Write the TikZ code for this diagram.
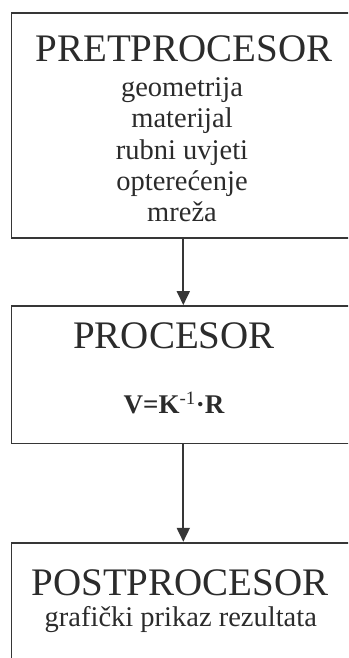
\documentclass[tikz,border=0pt]{standalone}
\usepackage{fontspec}
\setmainfont{Liberation Serif}
\usetikzlibrary{arrows.meta}
\definecolor{ink}{HTML}{2B2B2B}
\definecolor{frame}{HTML}{363636}
\tikzset{
  block/.style={draw=frame, line width=1.8pt, minimum width=343.5pt, inner sep=0pt},
  head/.style={anchor=base, inner sep=0pt, text=ink, font=\fontsize{39}{39}\selectfont},
  item/.style={anchor=base, inner sep=0pt, text=ink, font=\fontsize{28.5}{31}\selectfont},
  flow/.style={draw=frame, line width=1.8pt, -{Triangle[length=14pt,width=13pt]}},
}

\begin{document}
\begin{tikzpicture}[x=1pt,y=-1pt]
  \useasboundingbox (0,0) rectangle (348,658);
  \clip (0,0) rectangle (348,658);
  % pretprocesor
  \node[block, minimum height=225pt] (pre) at (183.3,125.8) {};
  \node[head] (pretitle) at (184,61.7) {PRETPROCESOR};
  \node[item] (geo) at (182,97) {geometrija}; \node[item] (mat) at (182,128) {materijal};
  \node[item] (rub) at (182,159) {rubni uvjeti}; \node[item] (opt) at (182,190) {opterećenje};
  \node[item] (mre) at (182,221) {mreža};
  % procesor
  \node[block, minimum height=137.5pt] (proc) at (183.3,374.75) {};
  \node[head] (proctitle) at (174,348.3) {PROCESOR};
  \node[item, font=\fontsize{27}{27}\selectfont\bfseries] (eq) at (174,413.3) {V=K\textsuperscript{\mdseries -1}·R};
  % postprocesor
  \node[block, minimum height=150pt] (post) at (183.3,617.7) {};
  \node[head] (posttitle) at (180,595) {POSTPROCESOR};
  \node[item] (graf) at (180.8,626.7) {grafički prikaz rezultata};
  % flow
  \draw[flow] (pre.south) -- (proc.north);
  \draw[flow] (proc.south) -- (post.north);
\end{tikzpicture}
\end{document}
